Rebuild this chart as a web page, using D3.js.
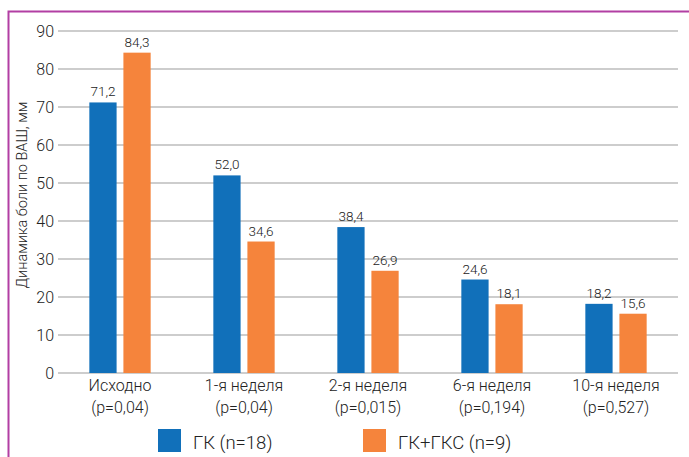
<!DOCTYPE html>
<html><head><meta charset="utf-8">
<script src="https://cdn.jsdelivr.net/npm/d3@7"></script>
<style>body{margin:0;background:#fff}svg{display:block}</style>
</head><body><svg id="c" width="689" height="457"></svg>
<script>
const categories = ["Исходно", "1-я неделя", "2-я неделя", "6-я неделя", "10-я неделя"];
const pValues = ["(p=0,04)", "(p=0,04)", "(p=0,015)", "(p=0,194)", "(p=0,527)"];
const seriesNames = ["ГК (n=18)", "ГК+ГКС (n=9)"];
const gk = [71.2, 52.0, 38.4, 24.6, 18.2];
const gkgks = [84.3, 34.6, 26.9, 18.1, 15.6];
const yTicks = [0, 10, 20, 30, 40, 50, 60, 70, 80, 90];
const colors = ["#1170ba", "#f5843c"];
const font = "Roboto,sans-serif";
const fw = 300;

const svg = d3.select("#c");
const m = {l: 58, r: 11, t: 31, b: 84};
const W = 689, H = 457;
const x0 = d3.scaleBand().domain(categories).range([m.l, W - m.r]).paddingInner(0).paddingOuter(0);
const x1 = d3.scaleBand().domain([0, 1]).range([0, x0.bandwidth()]).paddingInner(0.2).paddingOuter(0.92);
const y = d3.scaleLinear().domain([0, 90]).range([H - m.b, m.t]);

// border
svg.append("path").attr("d", `M8.5,${H} V11.5 H${W}`).attr("fill", "none").attr("stroke", "#b23fa3").attr("stroke-width", 2);

// grid
svg.append("g").selectAll("line").data(yTicks).join("line")
  .attr("x1", m.l).attr("x2", W - m.r)
  .attr("y1", d => y(d)).attr("y2", d => y(d))
  .attr("stroke", "#bdbdbd").attr("stroke-width", 1.5);

// y axis labels
const ya = svg.append("g").attr("transform", `translate(${m.l - 4},0)`)
  .call(d3.axisLeft(y).tickValues(yTicks).tickSize(0).tickPadding(0));
ya.select(".domain").remove();
ya.selectAll("text").attr("font-family", font).attr("font-weight", fw).attr("font-size", 16).attr("fill", "#222").attr("dy", "0.36em");

// bars
const data = categories.map((c, i) => ({c, v: [gk[i], gkgks[i]]}));
const g = svg.append("g").selectAll("g").data(data).join("g").attr("transform", d => `translate(${x0(d.c)},0)`);
g.selectAll("rect").data(d => d.v.map((v, k) => ({v, k}))).join("rect")
  .attr("x", d => x1(d.k)).attr("width", x1.bandwidth())
  .attr("y", d => y(d.v)).attr("height", d => y(0) - y(d.v))
  .attr("fill", d => colors[d.k]);
g.selectAll("text").data(d => d.v.map((v, k) => ({v, k}))).join("text")
  .attr("x", d => x1(d.k) + x1.bandwidth() / 2).attr("y", d => y(d.v) - 6)
  .attr("text-anchor", "middle").attr("font-family", font).attr("font-weight", fw).attr("font-size", 13.5).attr("fill", "#222")
  .text(d => d3.format(".1f")(d.v).replace(".", ","));

// x labels
const xl = svg.append("g").selectAll("text").data(categories).join("text")
  .attr("text-anchor", "middle").attr("font-family", font).attr("font-weight", fw).attr("font-size", 16).attr("fill", "#222")
  .attr("x", d => x0(d) + x0.bandwidth() / 2);
xl.append("tspan").attr("x", d => x0(d) + x0.bandwidth() / 2).attr("y", 391).text(d => d);
xl.append("tspan").attr("x", d => x0(d) + x0.bandwidth() / 2).attr("y", 413).text((d, i) => pValues[i]);

// y title
svg.append("text").attr("transform", `translate(27,195) rotate(-90)`)
  .attr("text-anchor", "middle").attr("font-family", font).attr("font-weight", fw).attr("font-size", 14.5).attr("fill", "#222")
  .text("Динамика боли по ВАШ, мм");

// legend
const lx = [158, 363];
const lg = svg.append("g").selectAll("g").data(seriesNames).join("g").attr("transform", (d, i) => `translate(${lx[i]},429)`);
lg.append("rect").attr("width", 23).attr("height", 23).attr("fill", (d, i) => colors[i]);
lg.append("text").attr("x", 35).attr("y", 20).attr("font-family", font).attr("font-weight", fw).attr("font-size", 18.5).attr("fill", "#222").text(d => d);
</script></body></html>
